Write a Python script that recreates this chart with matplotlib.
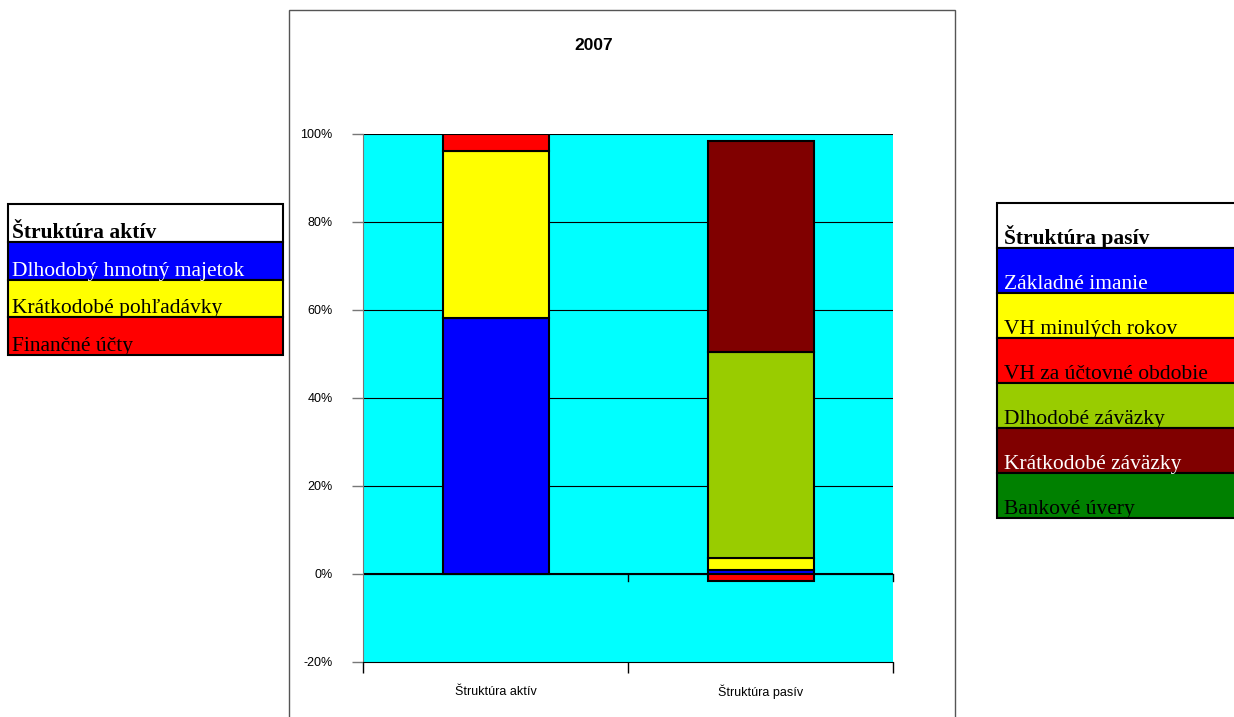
import matplotlib.pyplot as plt
from matplotlib.patches import Rectangle

categories = ["Štruktúra aktív", "Štruktúra pasív"]

aktiva_labels = ["Dlhodobý hmotný majetok", "Krátkodobé pohľadávky", "Finančné účty"]
aktiva_values = [58.2, 37.9, 3.9]
aktiva_colors = ["#0000FF", "#FFFF00", "#FF0000"]

pasiva_labels = ["Základné imanie", "VH minulých rokov", "VH za účtovné obdobie",
                 "Dlhodobé záväzky", "Krátkodobé záväzky", "Bankové úvery"]
pasiva_values = [0.8, 2.8, -1.5, 46.9, 47.9, 0.0]
pasiva_colors = ["#0000FF", "#FFFF00", "#FF0000", "#99CC00", "#800000", "#008000"]

yticks = [-20, 0, 20, 40, 60, 80, 100]

W, H = 1234, 717
fig = plt.figure(figsize=(W / 100, H / 100), dpi=100)
fig.patch.set_facecolor("white")

# chart frame
fig.patches.append(Rectangle((289 / W, -0.05), (955 - 289) / W, 1 - 10 / H + 0.05,
                             transform=fig.transFigure, fill=False,
                             edgecolor="#555555", linewidth=1))

ax = fig.add_axes([363 / W, 1 - 662 / H, (893 - 363) / W, (662 - 134) / H])
ax.set_facecolor("#00FFFF")
ax.set_xlim(-0.5, 1.5)
ax.set_ylim(-20, 100)

for y in yticks[1:]:
    ax.axhline(y, color="black", linewidth=0.8, zorder=1)


def stack(x, values, colors):
    pos, neg = 0.0, 0.0
    for v, c in zip(values, colors):
        if v == 0:
            continue
        if v > 0:
            ax.bar(x, v, 0.4, bottom=pos, color=c, edgecolor="black", linewidth=1.5, zorder=3)
            pos += v
        else:
            ax.bar(x, v, 0.4, bottom=neg, color=c, edgecolor="black", linewidth=1.5, zorder=3)
            neg += v


stack(0, aktiva_values, aktiva_colors)
stack(1, pasiva_values, pasiva_colors)

ax.axhline(0, color="black", linewidth=1.5, zorder=2)
for xb in [0.5, 1.5]:
    ax.plot([xb, xb], [0, -1.6], color="black", linewidth=1, clip_on=False, zorder=4)

for s in ["top", "right"]:
    ax.spines[s].set_visible(False)
ax.spines["left"].set_color("#777777")
ax.spines["bottom"].set_color("black")

ax.set_yticks(yticks)
ax.set_yticklabels([f"{v}%" for v in yticks], fontsize=9, family="Liberation Sans")
ax.tick_params(axis="y", length=8, width=1, color="#777777", pad=14)
ax.set_xticks([-0.5, 0.5, 1.5])
ax.set_xticklabels([])
ax.tick_params(axis="x", length=8, width=1, color="black")
for i, c in enumerate(categories):
    ax.text(i, -26.8, c, ha="center", va="center", fontsize=9, family="Liberation Sans")

fig.text(594 / W, 1 - 46 / H, "2007", ha="center", va="center",
         fontsize=12.5, fontweight="bold", family="Liberation Sans")


def legend_box(x0, x1, y0, row_h, pad, title, labels, colors, light):
    rows = [(title, "white", "black", True)]
    for lab, col in zip(labels, colors):
        rows.append((lab, col, "white" if col in light else "black", False))
    for i, (lab, col, tc, bold) in enumerate(rows):
        top = y0 + i * row_h
        fig.patches.append(Rectangle((x0 / W, 1 - (top + row_h) / H), (x1 - x0) / W, row_h / H,
                                     transform=fig.transFigure, facecolor=col,
                                     edgecolor="black", linewidth=1.5))
        fig.text((x0 + pad) / W, 1 - (top + row_h - 4) / H, lab, ha="left", va="baseline",
                 color=tc, fontsize=15.5, family="Liberation Serif",
                 fontweight="bold" if bold else "normal")


legend_box(8, 283, 204, 37.8, 4, "Štruktúra aktív", aktiva_labels, aktiva_colors,
           ["#0000FF", "#800000"])
legend_box(997, 1240, 203, 45.0, 7, "Štruktúra pasív", pasiva_labels, pasiva_colors,
           ["#0000FF", "#800000"])

fig.savefig("out.png", dpi=100)
